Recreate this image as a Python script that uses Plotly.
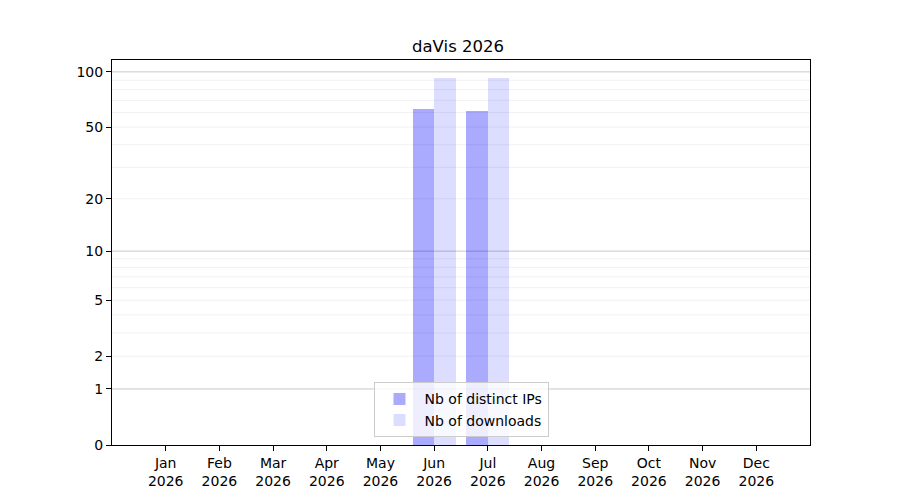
import numpy as np
import plotly.graph_objects as go

months = ["Jan", "Feb", "Mar", "Apr", "May", "Jun", "Jul", "Aug", "Sep", "Oct", "Nov", "Dec"]
year = "2026"
distinct_ips = [0, 0, 0, 0, 0, 63, 61, 0, 0, 0, 0, 0]
downloads = [0, 0, 0, 0, 0, 93, 93, 0, 0, 0, 0, 0]

y_labels = [0, 1, 2, 5, 10, 20, 50, 100]
major_grid = [1, 10, 100]
minor_grid = [2, 3, 4, 5, 6, 7, 8, 9, 20, 30, 40, 50, 60, 70, 80, 90]

# log(1+x) scale, like matplotlib's function scale
def tr(v):
    return np.log10(np.asarray(v, dtype=float) + 1)

x = list(range(len(months)))
fig = go.Figure()
fig.add_trace(go.Bar(x=x, y=tr(distinct_ips), name="Nb of distinct IPs",
                     offset=-0.4, width=0.4,
                     marker=dict(color="rgba(0,0,255,0.333)", line=dict(width=0))))
fig.add_trace(go.Bar(x=x, y=tr(downloads), name="Nb of downloads",
                     offset=0.0, width=0.4,
                     marker=dict(color="rgba(0,0,255,0.135)", line=dict(width=0))))

for v in minor_grid:
    fig.add_shape(type="line", xref="paper", yref="y", x0=0, x1=1, y0=tr(v), y1=tr(v),
                  line=dict(color="rgba(0,0,0,0.08)", width=0.8), layer="above")
for v in major_grid:
    fig.add_shape(type="line", xref="paper", yref="y", x0=0, x1=1, y0=tr(v), y1=tr(v),
                  line=dict(color="rgba(0,0,0,0.22)", width=1), layer="above")

# page body has an 8px margin, so margins are shifted a bit
fig.update_layout(
    width=900, height=500,
    plot_bgcolor="white", paper_bgcolor="white",
    font=dict(family="DejaVu Sans", size=14, color="black"),
    title=dict(text="daVis 2026", x=0.5, xanchor="center", y=0.924, yanchor="middle",
               font=dict(size=16.5)),
    margin=dict(l=104, r=98, t=52, b=63),
    showlegend=True,
    legend=dict(x=0.5, xanchor="center", y=0.02, yanchor="bottom",
                bgcolor="rgba(255,255,255,0.8)", bordercolor="#cccccc", borderwidth=1,
                font=dict(size=14), tracegroupgap=0, itemwidth=40),
    bargap=0,
)
fig.update_xaxes(range=[-1, 12], tickmode="array", tickvals=x,
                 ticktext=[m + "<br>" + year for m in months],
                 showgrid=False, zeroline=False, showline=True, mirror=True,
                 linecolor="black", linewidth=1, ticks="outside", ticklen=5,
                 tickcolor="black")
fig.update_yaxes(range=[0, 2.068], tickmode="array", tickvals=tr(y_labels),
                 ticktext=[str(v) for v in y_labels],
                 showgrid=False, zeroline=False, showline=True, mirror=True,
                 linecolor="black", linewidth=1, ticks="outside", ticklen=5,
                 tickcolor="black")

fig.write_html("out.html")
